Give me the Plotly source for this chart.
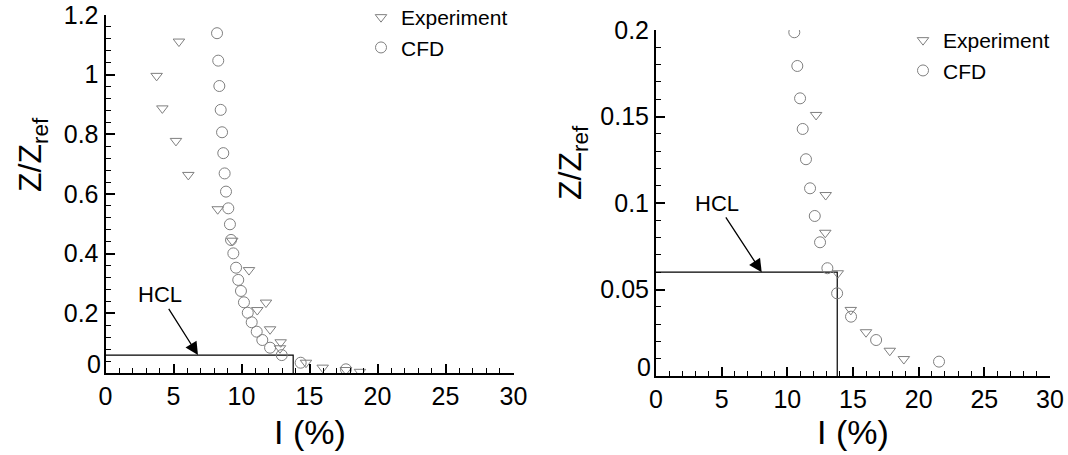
import plotly.graph_objects as go

# ---------------- data ----------------
# Left panel: full-height turbulence intensity profile
left_exp_I = [5.40, 3.76, 4.18, 5.18, 6.09, 8.25, 9.32, 10.55, 11.80, 11.16,
              12.10, 12.88, 12.83, 14.74, 15.97, 17.68, 18.71]
left_exp_Z = [1.111, 0.996, 0.887, 0.778, 0.664, 0.549, 0.4435, 0.345, 0.236, 0.211,
              0.1465, 0.103, 0.083, 0.0345, 0.018, 0.010, 0.004]
left_cfd_I = [8.20, 8.29, 8.37, 8.47, 8.57, 8.66, 8.76, 8.86, 9.03, 9.15, 9.23, 9.40,
              9.60, 9.76, 9.96, 10.18, 10.46, 10.75, 11.12, 11.53, 12.10, 12.96,
              14.35, 17.68]
left_cfd_Z = [1.139, 1.047, 0.962, 0.882, 0.807, 0.737, 0.669, 0.608, 0.552, 0.4985,
              0.446, 0.401, 0.353, 0.312, 0.275, 0.237, 0.202, 0.170, 0.1385, 0.1106,
              0.0848, 0.060, 0.0345, 0.0124]

# Right panel: close-up of the near-ground region
right_exp_I = [12.19, 12.92, 12.89, 13.84, 14.83, 15.99, 17.80, 18.87]
right_exp_Z = [0.1509, 0.1046, 0.0828, 0.0594, 0.0382, 0.0253, 0.0146, 0.0098]
right_cfd_I = [10.53, 10.76, 10.97, 11.17, 11.42, 11.73, 12.09, 12.49, 13.05, 13.79,
               14.85, 16.76, 21.55]
right_cfd_Z = [0.1987, 0.1792, 0.1605, 0.1428, 0.1253, 0.1085, 0.0925, 0.0773, 0.0623,
               0.0478, 0.0343, 0.0208, 0.0083]

# Hub-height reference point (HCL)
hcl_I = 13.8
hcl_Z = 0.06

x_ticks = [0, 5, 10, 15, 20, 25, 30]
left_y_ticks = [0, 0.2, 0.4, 0.6, 0.8, 1.0, 1.2]
left_y_labels = ["0", "0.2", "0.4", "0.6", "0.8", "1", "1.2"]
right_y_ticks = [0, 0.05, 0.1, 0.15, 0.2]
right_y_labels = ["0", "0.05", "0.1", "0.15", "0.2"]

# ---------------- styling ----------------
FONT = "Liberation Sans, Arial, sans-serif"
MARKER_COLOR = "#7f7f7f"
W, H = 1068, 455
TICK_SIZE = 25


def px_x(p):
    return p / W


def px_y(p):
    return 1 - p / H


def axis(domain, rng, tickvals, ticktext, minor_dtick, anchor):
    return dict(
        domain=domain, range=rng, anchor=anchor, automargin=False,
        tickmode="array", tickvals=tickvals, ticktext=ticktext,
        ticks="inside", ticklen=9, tickwidth=1.5, tickcolor="black",
        minor=dict(tickmode="linear", tick0=0, dtick=minor_dtick, ticks="inside",
                   ticklen=5, tickwidth=1, tickcolor="black", showgrid=False),
        showline=True, linecolor="black", linewidth=2,
        showgrid=False, zeroline=False,
        tickfont=dict(family=FONT, size=TICK_SIZE, color="black"),
    )


fig = go.Figure()

exp_marker = dict(symbol="triangle-down-open", size=10, color=MARKER_COLOR,
                  line=dict(width=1, color=MARKER_COLOR))
cfd_marker = dict(symbol="circle-open", size=11, color=MARKER_COLOR,
                  line=dict(width=1, color=MARKER_COLOR))

# HCL guide lines
for xa, ya in (("x", "y"), ("x2", "y2")):
    fig.add_trace(go.Scatter(
        x=[0, hcl_I, hcl_I], y=[hcl_Z, hcl_Z, 0], mode="lines",
        line=dict(color="black", width=1.2), showlegend=False,
        xaxis=xa, yaxis=ya, hoverinfo="skip"))

fig.add_trace(go.Scatter(x=left_exp_I, y=left_exp_Z, mode="markers", name="Experiment",
                         marker=exp_marker, xaxis="x", yaxis="y", legend="legend"))
fig.add_trace(go.Scatter(x=left_cfd_I, y=left_cfd_Z, mode="markers", name="CFD",
                         marker=cfd_marker, xaxis="x", yaxis="y", legend="legend"))
fig.add_trace(go.Scatter(x=right_exp_I, y=right_exp_Z, mode="markers", name="Experiment",
                         marker=exp_marker, xaxis="x2", yaxis="y2", legend="legend2"))
fig.add_trace(go.Scatter(x=right_cfd_I, y=right_cfd_Z, mode="markers", name="CFD",
                         marker=cfd_marker, xaxis="x2", yaxis="y2", legend="legend2"))

left_dom_x = [px_x(105.5), px_x(513.5)]
left_dom_y = [px_y(373), px_y(15)]
right_dom_x = [px_x(656), px_x(1050)]
right_dom_y = [px_y(376), px_y(30)]

legend_style = dict(font=dict(family=FONT, size=21, color="black"),
                    bgcolor="rgba(0,0,0,0)", borderwidth=0, tracegroupgap=0,
                    xanchor="left", yanchor="top")

annotations = [
    # axis titles
    dict(text="I (%)", x=(left_dom_x[0] + left_dom_x[1]) / 2, y=px_y(432),
         xref="paper", yref="paper", showarrow=False, xanchor="center", yanchor="middle",
         font=dict(family=FONT, size=34, color="black")),
    dict(text="I (%)", x=(right_dom_x[0] + right_dom_x[1]) / 2, y=px_y(432),
         xref="paper", yref="paper", showarrow=False, xanchor="center", yanchor="middle",
         font=dict(family=FONT, size=34, color="black")),
    dict(text="Z/Z<sub>ref</sub>", x=px_x(32), y=px_y(155), textangle=-90,
         xref="paper", yref="paper", showarrow=False, xanchor="center", yanchor="middle",
         font=dict(family=FONT, size=32, color="black")),
    dict(text="Z/Z<sub>ref</sub>", x=px_x(572), y=px_y(163), textangle=-90,
         xref="paper", yref="paper", showarrow=False, xanchor="center", yanchor="middle",
         font=dict(family=FONT, size=32, color="black")),
    # origin labels of the y axes, lifted clear of the x-axis "0"
    dict(text=left_y_labels[0], x=left_dom_x[0], y=left_y_ticks[0], xref="paper", yref="y",
         xanchor="right", yanchor="middle", xshift=-3, yshift=9, showarrow=False,
         font=dict(family=FONT, size=TICK_SIZE, color="black")),
    dict(text=right_y_labels[0], x=right_dom_x[0], y=right_y_ticks[0], xref="paper", yref="y2",
         xanchor="right", yanchor="middle", xshift=-3, yshift=9, showarrow=False,
         font=dict(family=FONT, size=TICK_SIZE, color="black")),
    # HCL callouts
    dict(text="HCL", x=6.8, y=hcl_Z, xref="x", yref="y", ax=4.0, ay=0.262,
         axref="x", ayref="y", showarrow=True, arrowhead=2, arrowsize=2,
         arrowwidth=1.3, arrowcolor="black",
         font=dict(family=FONT, size=22, color="black")),
    dict(text="HCL", x=8.05, y=hcl_Z, xref="x2", yref="y2", ax=4.62, ay=0.0998,
         axref="x2", ayref="y2", showarrow=True, arrowhead=2, arrowsize=2,
         arrowwidth=1.3, arrowcolor="black",
         font=dict(family=FONT, size=22, color="black")),
]

# y-axis origin labels are drawn as annotations above
left_y_text = [""] + left_y_labels[1:]
right_y_text = [""] + right_y_labels[1:]

fig.update_layout(
    width=W, height=H,
    margin=dict(l=0, r=0, t=0, b=0, autoexpand=False),
    paper_bgcolor="white", plot_bgcolor="white",
    font=dict(family=FONT, color="black"),
    xaxis=axis(left_dom_x, [0, 30], x_ticks, [str(v) for v in x_ticks], 1, "y"),
    yaxis=axis(left_dom_y, [0, 1.2], left_y_ticks, left_y_text, 0.04, "x"),
    xaxis2=axis(right_dom_x, [0, 30], x_ticks, [str(v) for v in x_ticks], 1, "y2"),
    yaxis2=axis(right_dom_y, [0, 0.2], right_y_ticks, right_y_text, 0.01, "x2"),
    legend=dict(x=px_x(361), y=px_y(-3), **legend_style),
    legend2=dict(x=px_x(903), y=px_y(20), **legend_style),
    annotations=annotations,
    showlegend=True,
)

fig.write_html("out.html")
